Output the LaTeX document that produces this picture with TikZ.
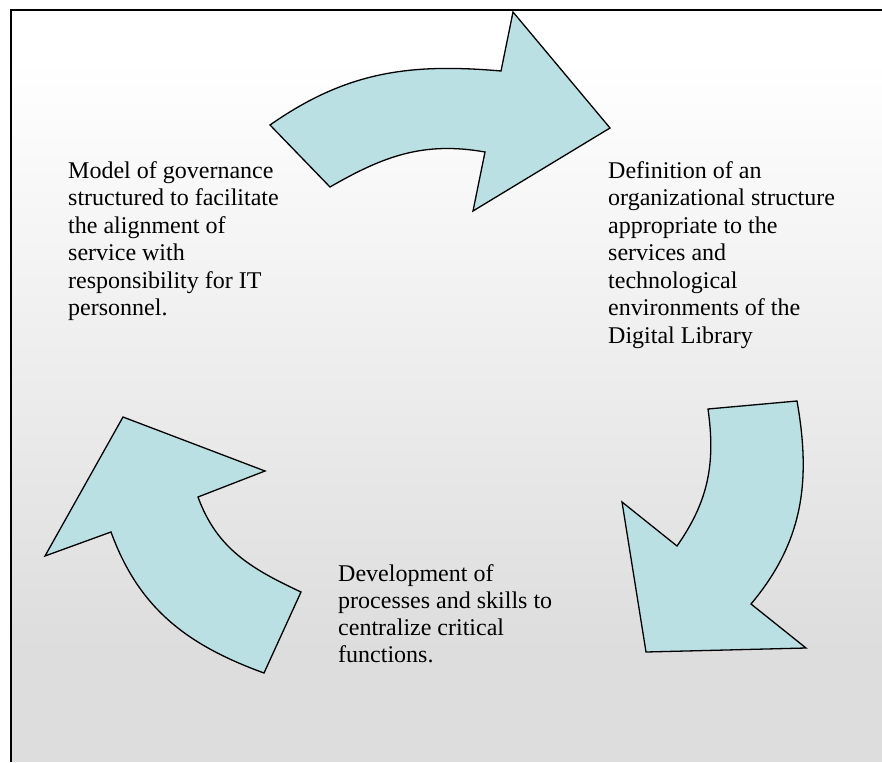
\documentclass[tikz,border=0pt]{standalone}
\usepackage{fontspec}
\setmainfont{Liberation Serif}
\usetikzlibrary{calc}
\definecolor{arrowfill}{RGB}{186,224,227}
\definecolor{bggray}{RGB}{221,221,221}
\tikzset{
  arr/.style={draw=black, line width=1.3pt, fill=arrowfill, line join=miter},
  frame/.style={draw=black, line width=2pt},
  % base sits on the last line of a block
  txt/.style={anchor=base west, align=left, inner sep=0pt, font=\fontsize{24}{27.5}\selectfont}
}

\begin{document}
\begin{tikzpicture}[x=1pt,y=1pt]
  \useasboundingbox (0,0) rectangle (882,-762);
  % background and frame
  \fill[white] (0,0) rectangle (882,-762);
  \shade[top color=white, bottom color=bggray] (11,-60) rectangle (882,-650);
  \fill[bggray] (11,-650) rectangle (882,-762);
  \draw[frame] (11,-762) -- (11,-10) -- (882,-10);

  % top arrow
  \draw[arr] (270,-125) to[out=35,in=175] (501,-71) -- (513,-12) -- (610,-128)
    -- (473,-211) -- (485,-152) to[out=170,in=30] (330,-187) -- cycle;
  % right arrow
  \draw[arr] (797,-401) to[out=-80,in=50] (751,-604) -- (806,-648) -- (646,-652)
    -- (622,-502) -- (677,-546) to[out=55,in=-82] (708,-409) -- cycle;
  % left arrow
  \draw[arr] (264,-673) to[out=160,in=-70] (111,-532) -- (45,-556) -- (123,-417)
    -- (265,-471) -- (198,-497) to[out=-70,in=155] (301,-592) -- cycle;

  % texts
  \node[txt] (govtext) at (68,-315.5) {Model of governance\\structured to facilitate\\the alignment of\\service with\\responsibility for IT\\personnel.};
  \node[txt] (orgtext) at (608,-343) {Definition of an\\organizational structure\\appropriate to the\\services and\\technological\\environments of the\\Digital Library};
  \node[txt, font=\fontsize{24}{26.7}\selectfont] (devtext) at (338,-662) {Development of\\processes and skills to\\centralize critical\\functions.};
\end{tikzpicture}
\end{document}
